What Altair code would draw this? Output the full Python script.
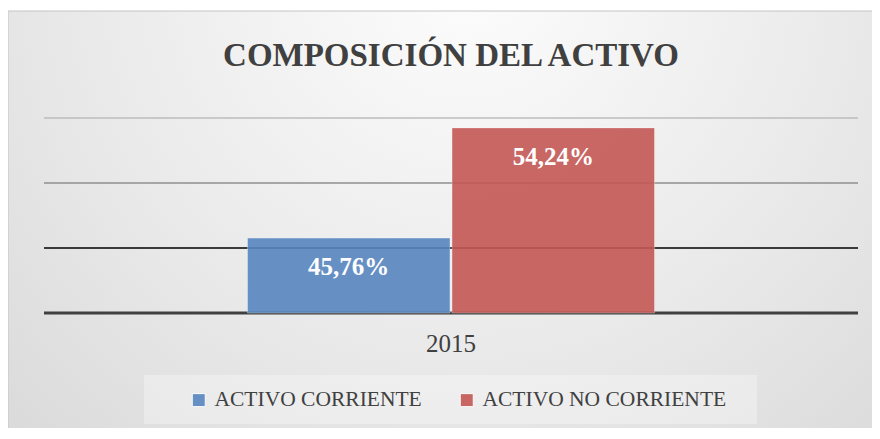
import altair as alt
import pandas as pd

# ---- data ----
years = ["2015"]
series = ["ACTIVO CORRIENTE", "ACTIVO NO CORRIENTE"]
values = [45.76, 54.24]
grid_values = [40, 45, 50, 55]
title_text = "COMPOSICIÓN DEL ACTIVO"

bars_df = pd.DataFrame({"year": years * 2, "series": series, "value": values})
grid_df = pd.DataFrame({"g": grid_values})

# ---- styling ----
bar_colors = ["#5886c0", "#c45855"]
grid_colors = ["#404040", "#000000", "#8f8f8f", "#bdbdbd"]
W, H = 814, 195
PAD = {"left": 36, "top": 110, "right": 14, "bottom": 115}
SERIF = "'Liberation Serif', 'Times New Roman', Times, serif"

yscale = alt.Scale(domain=[40, 55], clamp=True, zero=False, nice=False)
xenc = alt.X(
    "year:N",
    scale=alt.Scale(paddingOuter=0.5, paddingInner=0),
    axis=alt.Axis(
        title=None, ticks=False, domain=False, labelAngle=0,
        labelFont=SERIF, labelFontSize=25, labelColor="#404040",
        labelPadding=18, labelBaseline="top", zindex=1,
    ),
)
xoff = alt.XOffset("series:N", sort=series,
                   scale=alt.Scale(paddingInner=0.01, paddingOuter=0))

one = alt.Data(values=[{}])

bg = alt.Chart(one).mark_rect(
    fill={
        "gradient": "radial",
        "x1": 0.52, "y1": 0.2, "r1": 0.0,
        "x2": 0.52, "y2": 0.2, "r2": 1.0,
        "stops": [
            {"offset": 0.0, "color": "#fdfdfd"},
            {"offset": 0.45, "color": "#e9e9e9"},
            {"offset": 1.0, "color": "#cdcdcd"},
        ],
    },
    stroke="#c4c4c4", strokeWidth=1,
).encode(x=alt.value(-36), x2=alt.value(W + 30), y=alt.value(-107), y2=alt.value(H + 140))

legend_box = alt.Chart(one).mark_rect(fill="#ffffff", opacity=0.3).encode(
    x=alt.value(100), x2=alt.value(713), y=alt.value(257), y2=alt.value(306)
)

rules = alt.Chart(grid_df).mark_rule().encode(
    y=alt.Y("g:Q", scale=yscale, axis=None),
    stroke=alt.Stroke("g:N", scale=alt.Scale(domain=grid_values, range=grid_colors), legend=None),
    strokeWidth=alt.condition("datum.g == 40", alt.value(3), alt.value(1.5)),
)

bars = alt.Chart(bars_df).mark_bar(
    opacity=0.9, stroke="#ffffff", strokeOpacity=0.35, strokeWidth=1
).encode(
    x=xenc,
    xOffset=xoff,
    y=alt.Y("value:Q", scale=yscale, axis=None),
    color=alt.Color(
        "series:N", sort=series,
        scale=alt.Scale(domain=series, range=bar_colors),
        legend=alt.Legend(
            title=None, orient="none", direction="horizontal", columns=2,
            legendX=144, legendY=271, padding=0,
            symbolType="square", symbolSize=169, symbolStrokeColor="#ffffff",
            symbolStrokeWidth=1, symbolOpacity=0.9,
            labelFont=SERIF, labelFontSize=21.5, labelColor="#404040",
            labelOffset=5, columnPadding=34, labelLimit=400, zindex=1,
        ),
    ),
)

labels = alt.Chart(bars_df).transform_calculate(
    label="replace(format(datum.value, '.2f'), '.', ',') + '%'"
).mark_text(
    dy=29, baseline="middle", font=SERIF, fontSize=25, fontWeight="bold", color="#ffffff"
).encode(
    x=xenc,
    xOffset=xoff,
    y=alt.Y("value:Q", scale=yscale, axis=None),
    text="label:N",
)

chart = alt.layer(bg, legend_box, rules, bars, labels).properties(
    width=W, height=H,
    autosize=alt.AutoSizeParams(type="none"),
    padding=PAD,
    title=alt.TitleParams(
        text=title_text, font=SERIF, fontSize=33, fontWeight="bold", color="#404040",
        anchor="middle", frame="group", baseline="alphabetic", offset=-88, zindex=1,
    ),
).configure(background="#ffffff").configure_view(stroke=None)

chart.save("out.html", embed_options={"renderer": "svg", "actions": False})
